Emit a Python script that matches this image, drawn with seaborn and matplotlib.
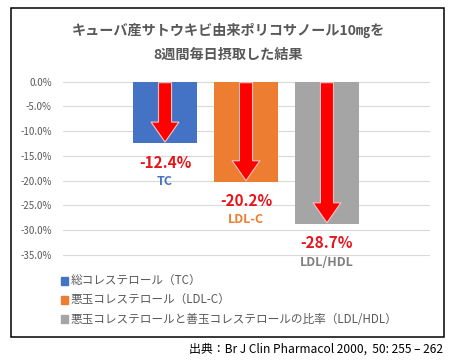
import pandas as pd
import seaborn as sns
import matplotlib.pyplot as plt
from matplotlib.patches import Rectangle, Patch

# data
short_labels = ["TC", "LDL-C", "LDL/HDL"]
legend_labels = ["総コレステロール（TC）", "悪玉コレステロール（LDL-C）",
                 "悪玉コレステロールと善玉コレステロールの比率（LDL/HDL）"]
changes = [-12.4, -20.2, -28.7]
yticks = [0, -5, -10, -15, -20, -25, -30, -35]
bar_colors = ["#4472C4", "#ED7D31", "#A5A5A5"]
name_colors = ["#4472C4", "#ED7D31", "#808080"]

sns.set_theme(style="white")
plt.rcParams["font.family"] = ["Noto Sans CJK JP", "DejaVu Sans"]

df = pd.DataFrame({"item": short_labels, "change": changes})

fig = plt.figure(figsize=(4.57, 3.62), dpi=100)
ax = fig.add_axes([63 / 457, 1 - 255 / 362, 366 / 457, 173.3 / 362])

sns.barplot(data=df, x="item", y="change", hue="item", palette=bar_colors,
            width=0.79, saturation=1, legend=False, ax=ax, linewidth=0)

ax.set_xlim(-1.26, 3.26)
ax.set_ylim(-35, 0)
ax.set_yticks(yticks)
ax.set_yticklabels([f"{t:.1f}%" for t in yticks], fontsize=7, color="#595959")
ax.set_xticks([])
ax.set_xlabel("")
ax.set_ylabel("")
ax.tick_params(axis="y", length=0, pad=8)
for s in ax.spines.values():
    s.set_visible(False)
ax.grid(axis="y", color="#D9D9D9", lw=0.8)
ax.set_axisbelow(True)
for gl in ax.get_ygridlines():
    gl.set_clip_on(False)

for i, v in enumerate(changes):
    ax.annotate("", xy=(i, v + 0.2), xytext=(i, -0.2),
                arrowprops=dict(arrowstyle="simple,head_length=0.72,head_width=1.0,tail_width=0.47",
                                mutation_scale=20, fc="#FF0000", ec="#F6C4C4", lw=0.8,
                                shrinkA=0, shrinkB=0))
    ax.annotate(f"{v:.1f}%", xy=(i, v), xytext=(0, -14), textcoords="offset points",
                ha="center", va="center", fontsize=11, fontweight="bold", color="#E8141B",
                annotation_clip=False)
    ax.annotate(short_labels[i], xy=(i, v), xytext=(0, -27.5), textcoords="offset points",
                ha="center", va="center", fontsize=9, fontweight="bold", color=name_colors[i],
                annotation_clip=False)

# title
fig.text(0.5, 1 - 30 / 362, "キューバ産サトウキビ由来ポリコサノール10㎎を",
         ha="center", va="center", fontsize=10.2, fontweight="bold", color="#595959")
fig.text(0.5, 1 - 55 / 362, "8週間毎日摂取した結果",
         ha="center", va="center", fontsize=10.2, fontweight="bold", color="#595959")

# legend
handles = [Patch(color=c) for c in bar_colors]
fig.legend(handles, legend_labels, loc="upper left", bbox_to_anchor=(61 / 457, 1 - 275 / 362),
           frameon=False, fontsize=8.4, labelcolor="#595959", handlelength=0.6, handleheight=0.6,
           handletextpad=0.25, labelspacing=0.52, borderpad=0, borderaxespad=0)

# frame
fig.patches.append(Rectangle((11 / 457, 1 - 337 / 362), 433 / 457, 329 / 362,
                             transform=fig.transFigure, fill=False, ec="black", lw=1.1))

fig.text(443 / 457, 1 - 349 / 362, "出典：Br J Clin Pharmacol 2000,  50: 255 – 262",
         ha="right", va="center", fontsize=8.6, color="black")

fig.savefig("out.png", dpi=100)
